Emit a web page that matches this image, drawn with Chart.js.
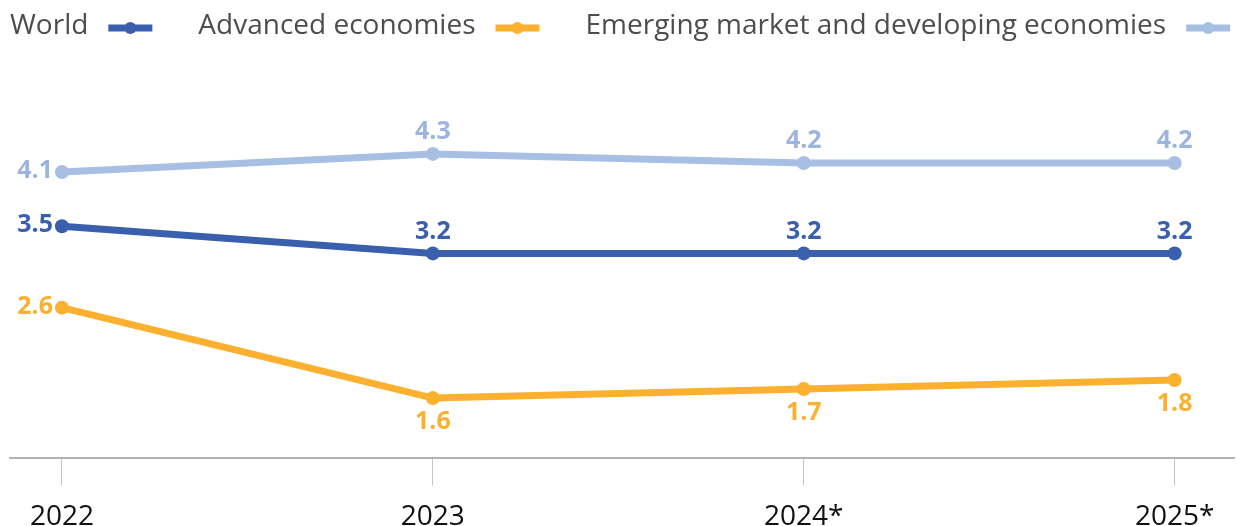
<!DOCTYPE html>
<html>
<head>
<meta charset="utf-8">
<script src="https://cdn.jsdelivr.net/npm/chart.js@4.4.0/dist/chart.umd.min.js"></script>
<style>
  html, body { margin: 0; padding: 0; background: #fff; }
  #wrap { position: relative; width: 1241px; height: 526px; }
</style>
</head>
<body>
<div id="wrap"><canvas id="growthChart"></canvas></div>
<script>
const years = ['2022', '2023', '2024*', '2025*'];
const world = [3.5, 3.2, 3.2, 3.2];
const advanced = [2.6, 1.6, 1.7, 1.8];
const emerging = [4.1, 4.3, 4.2, 4.2];

const toPoints = arr => arr.map((v, i) => ({ x: i, y: v }));

// value labels next to each point
const valueLabels = {
    id: 'valueLabels',
    afterDatasetsDraw(chart) {
        const ctx = chart.ctx;
        ctx.save();
        ctx.font = 'bold 25px "Open Sans"';
        chart.data.datasets.forEach((ds, di) => {
            const meta = chart.getDatasetMeta(di);
            ctx.fillStyle = ds.labelColor;
            meta.data.forEach((pt, i) => {
                const txt = ds.data[i].y.toFixed(1);
                ctx.textBaseline = 'middle';
                if (i === 0) {
                    ctx.textAlign = 'right';
                    ctx.fillText(txt, pt.x - 9, pt.y - 1);
                } else {
                    ctx.textAlign = 'center';
                    const dy = ds.labelSide === 'below' ? 24 : -22;
                    ctx.fillText(txt, pt.x, pt.y + dy);
                }
            });
        });
        ctx.restore();
    }
};

// legend: text first, then line swatch
const textLegend = {
    id: 'textLegend',
    afterDraw(chart) {
        const ctx = chart.ctx;
        ctx.save();
        ctx.font = '28px "Open Sans"';
        ctx.textBaseline = 'middle';
        ctx.textAlign = 'left';
        let x = 10;
        const y = 26;
        chart.data.datasets.forEach(ds => {
            ctx.fillStyle = '#4d4d4d';
            ctx.fillText(ds.label, x, y);
            x += ctx.measureText(ds.label).width + 20;
            ctx.strokeStyle = ds.borderColor;
            ctx.lineWidth = 7;
            ctx.beginPath();
            ctx.moveTo(x, y + 2);
            ctx.lineTo(x + 44, y + 2);
            ctx.stroke();
            ctx.fillStyle = ds.borderColor;
            ctx.beginPath();
            ctx.arc(x + 22, y + 2, 6, 0, Math.PI * 2);
            ctx.fill();
            x += 44 + 46;
        });
        ctx.restore();
    }
};

new Chart(document.getElementById('growthChart'), {
    type: 'line',
    data: {
        datasets: [{
            label: 'World',
            data: toPoints(world),
            borderColor: '#3a5fad',
            backgroundColor: '#3a5fad',
            labelColor: '#3a5fad',
            labelSide: 'above'
        }, {
            label: 'Advanced economies',
            data: toPoints(advanced),
            borderColor: '#fbb12f',
            backgroundColor: '#fbb12f',
            labelColor: '#fbb12f',
            labelSide: 'below'
        }, {
            label: 'Emerging market and developing economies',
            data: toPoints(emerging),
            borderColor: '#a8bfe4',
            backgroundColor: '#a8bfe4',
            labelColor: '#9cb4de',
            labelSide: 'above'
        }]
    },
    options: {
        responsive: true,
        maintainAspectRatio: false,
        animation: false,
        layout: { padding: { left: 10, right: 5, top: 87, bottom: -23 } },
        elements: {
            line: { borderWidth: 7, tension: 0, fill: false, borderCapStyle: 'round' },
            point: { radius: 7, hoverRadius: 7, borderWidth: 0 }
        },
        clip: false,
        plugins: {
            legend: { display: false },
            tooltip: { enabled: false }
        },
        scales: {
            x: {
                type: 'linear',
                min: -0.14,
                max: 3.16,
                afterBuildTicks: scale => {
                    scale.ticks = years.map((_, i) => ({ value: i }));
                },
                grid: { drawOnChartArea: false, drawTicks: true, tickLength: 28, color: '#c4c4c4', lineWidth: 1 },
                border: { display: true, color: '#b3b3b3', width: 2 },
                ticks: {
                    autoSkip: false,
                    maxRotation: 0,
                    padding: 19,
                    color: '#111',
                    font: { family: 'Open Sans', size: 28, lineHeight: 0.9 },
                    callback: v => years[Math.round(v)]
                }
            },
            y: {
                display: false,
                min: 0.94,
                max: 5.04
            }
        }
    },
    plugins: [valueLabels, textLegend]
});
</script>
</body>
</html>
